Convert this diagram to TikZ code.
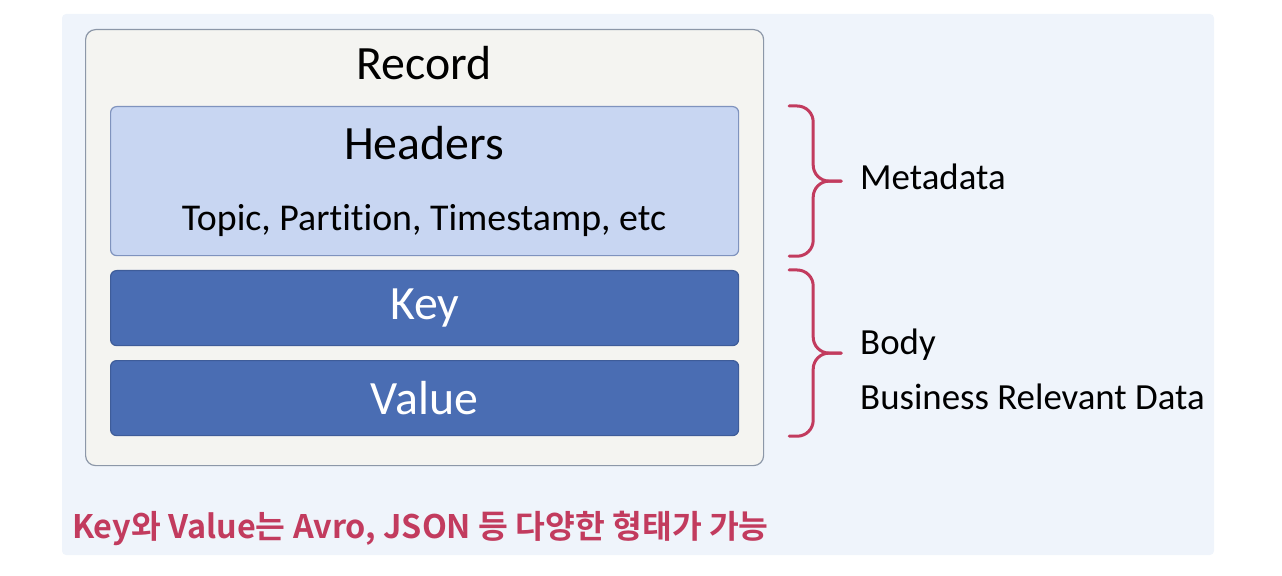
\documentclass[tikz,border=0pt]{standalone}
\usepackage{fontspec}
\setmainfont{Carlito}[Ligatures=NoCommon]
\newfontfamily\krfont{Noto Sans CJK KR}[BoldFont={* Bold}]
\usetikzlibrary{positioning,calc}

\definecolor{panelbg}{HTML}{EFF4FB}
\definecolor{recfill}{HTML}{F4F4F1}
\definecolor{recline}{HTML}{8C97A8}
\definecolor{hdrfill}{HTML}{C8D6F2}
\definecolor{hdrline}{HTML}{7F93BE}
\definecolor{bodyfill}{HTML}{4A6DB3}
\definecolor{bodyline}{HTML}{3E5C99}
\definecolor{accent}{HTML}{C23B5E}

\begin{document}
\begin{tikzpicture}[x=1bp,y=-1bp,
  field/.style={rectangle,rounded corners=6bp,minimum width=628bp,inner sep=0pt,line width=1.2bp},
  bodyfield/.style={field,draw=bodyline,fill=bodyfill,minimum height=75bp,text=white,font=\fontsize{48}{52}\selectfont},
  bracket/.style={draw=accent,line width=3bp,line cap=round,rounded corners=16bp},
  label/.style={anchor=west,inner sep=0pt,font=\fontsize{37}{42}\selectfont}]
  \useasboundingbox (0,0) rectangle (1282,576);
  \fill[panelbg,rounded corners=4bp] (62,14) rectangle (1214,555);
  % record container
  \node (record) [field,rounded corners=10bp,draw=recline,fill=recfill,minimum width=678bp,minimum height=436bp,anchor=north west] at (85,29) {};
  \node (rectitle) [font=\fontsize{48}{52}\selectfont] at (424,63) {Record};
  % headers and body fields
  \node (headers) [field,draw=hdrline,fill=hdrfill,minimum height=149bp,anchor=north west] at (110,106) {};
  \node (hdrtitle) [font=\fontsize{48}{52}\selectfont] at (424,143) {Headers};
  \node (hdrtext) [font=\fontsize{38}{42}\selectfont] at (424,221) {Topic, Partition, Timestamp, etc};
  \node (key) [bodyfield,anchor=north west] at (110,270) {Key};
  \node (value) [bodyfield,anchor=north west] at (110,360) {Value};
  % braces
  \coordinate (metatip) at ([xshift=102bp]headers.east);
  \coordinate (bodytip) at ($([xshift=102bp]key.north east)!0.5!([xshift=102bp]value.south east)$);
  \draw[bracket] ([xshift=50bp]headers.north east) -- ++(24,0) |- (metatip);
  \draw[bracket] ([xshift=50bp]headers.south east) -- ++(24,0) |- (metatip);
  \draw[bracket] ([xshift=50bp]key.north east) -- ++(24,0) |- (bodytip);
  \draw[bracket] ([xshift=50bp]value.south east) -- ++(24,0) |- (bodytip);
  \node (meta) [label] at (860,177) {Metadata};
  \node (body) [label] at (860,345) {Body};
  \node (biz) [label] at (860,397) {Business Relevant Data};
  % note
  \node (note) [anchor=west,inner sep=0pt,text=accent,font=\krfont\bfseries\fontsize{32.5}{36}\selectfont] at (72,528) {Key와 Value는 Avro, JSON 등 다양한 형태가 가능};
\end{tikzpicture}
\end{document}
